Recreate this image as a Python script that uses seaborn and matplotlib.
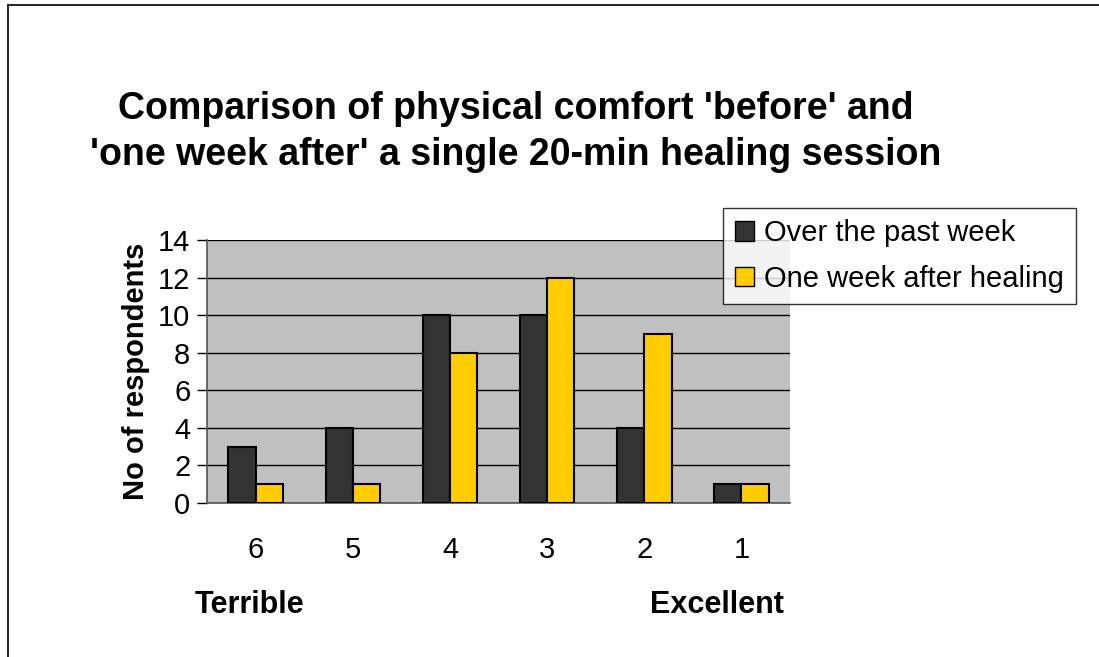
import matplotlib
matplotlib.use("Agg")
import matplotlib.pyplot as plt
import pandas as pd
import seaborn as sns
from matplotlib.lines import Line2D

# data
ratings = ['6', '5', '4', '3', '2', '1']
past_week = [3, 4, 10, 10, 4, 1]
after_healing = [1, 1, 8, 12, 9, 1]
series_names = ['Over the past week', 'One week after healing']
series_colors = ['#333333', '#FFCC00']

df = pd.DataFrame({
    'rating': ratings * 2,
    'count': past_week + after_healing,
    'series': [series_names[0]] * len(ratings) + [series_names[1]] * len(ratings),
})

sns.set_style('white')
plt.rcParams['font.family'] = ['Liberation Sans', 'DejaVu Sans']
plt.rcParams['text.color'] = 'black'
plt.rcParams['xtick.color'] = 'black'
plt.rcParams['ytick.color'] = 'black'
plt.rcParams['axes.labelcolor'] = 'black'

fig = plt.figure(figsize=(10.99, 6.57), dpi=100)
ax = fig.add_axes([0.1884, 0.2344, 0.5305, 0.4003])
ax.set_facecolor('#C0C0C0')

sns.barplot(data=df, x='rating', y='count', hue='series', order=ratings,
            hue_order=series_names, palette=series_colors, saturation=1,
            width=0.56, edgecolor='black', linewidth=1.5, ax=ax, zorder=3)

ax.set_ylim(0, 14)
ax.set_xlim(-0.5, 5.5)
ax.set_yticks(range(0, 15, 2))
ax.yaxis.grid(True, color='black', linewidth=1)
ax.set_axisbelow(True)

for s in ['top', 'right']:
    ax.spines[s].set_visible(False)
for s in ['left', 'bottom']:
    ax.spines[s].set_color('#555555')
    ax.spines[s].set_linewidth(1.2)

# category labels centred, tick marks between categories
ax.set_xticks([x + 0.5 for x in range(-1, 6)], minor=True)
ax.tick_params(axis='x', which='major', length=0, pad=24, labelsize=21)
ax.tick_params(axis='x', which='minor', length=7, width=1, color='black', direction='out')
ax.tick_params(axis='y', which='major', length=7, width=1, color='black', direction='out',
               left=True, pad=5, labelsize=21)

ax.set_xlabel('')
ax.set_ylabel('No of respondents', fontsize=21, fontweight='bold', labelpad=6)

ax.legend_.remove()
handles = [plt.Rectangle((0, 0), 1, 1, facecolor=c, edgecolor='black', linewidth=1)
           for c in series_colors]
leg = fig.legend(handles, series_names, loc='upper left',
                 bbox_to_anchor=(0.658, 0.684), fontsize=21, frameon=True,
                 fancybox=False, edgecolor='black', handlelength=0.65,
                 handleheight=0.65, handletextpad=0.35, borderpad=0.4,
                 labelspacing=0.6, borderaxespad=0)
leg.get_frame().set_linewidth(1)

fig.text(0.469, 0.799, "Comparison of physical comfort 'before' and\n"
         "'one week after' a single 20-min healing session",
         ha='center', va='center', fontsize=27, fontweight='bold', linespacing=1.33)

fig.text(0.177, 0.079, 'Terrible', fontsize=22, fontweight='bold', va='center')
fig.text(0.591, 0.079, 'Excellent', fontsize=22, fontweight='bold', va='center')

# outer frame (left and top edges visible)
fig.add_artist(Line2D([0.0075, 0.0075], [0, 0.993], color='black', linewidth=1.2,
                      transform=fig.transFigure))
fig.add_artist(Line2D([0.0075, 1], [0.993, 0.993], color='black', linewidth=1.2,
                      transform=fig.transFigure))

fig.savefig('out.png', dpi=100, facecolor='white')
